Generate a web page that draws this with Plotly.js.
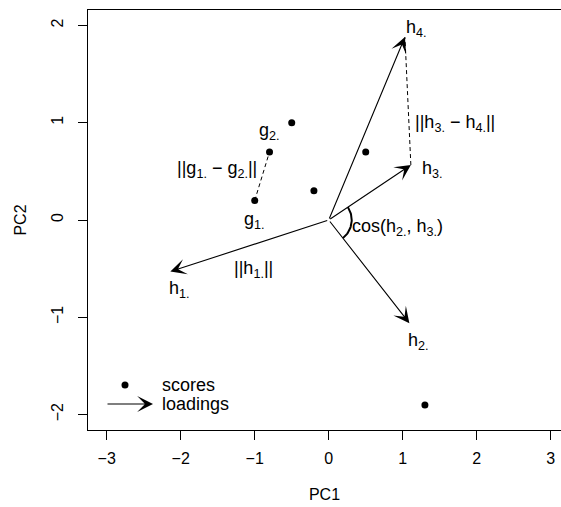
<!DOCTYPE html>
<html>
<head>
<meta charset="utf-8">
<script src="https://cdn.plot.ly/plotly-3.0.1.min.js"></script>
<style>html,body{margin:0;padding:0;background:#fff;} #plot{width:561px;height:507px;}</style>
</head>
<body>
<div id="plot"></div>
<script>
// ---- data ----
const scoresPC1 = [-0.5, -0.8, -1.0, -0.2, 0.5, 1.3];
const scoresPC2 = [1.0, 0.7, 0.2, 0.3, 0.7, -1.9];
const loadingNames = ['h1.', 'h2.', 'h3.', 'h4.'];
const loadingsPC1 = [-2.14, 1.09, 1.11, 1.03];
const loadingsPC2 = [-0.53, -1.06, 0.565, 1.88];
const xTickVals = [-3, -2, -1, 0, 1, 2, 3];
const yTickVals = [-2, -1, 0, 1, 2];
const xTickText = ['\u22123', '\u22122', '\u22121', '0', '1', '2', '3'];
const yTickText = ['\u22122', '\u22121', '0', '1', '2'];

// ---- layout geometry ----
const W = 561, H = 507;
const M = {l: 88, r: 0, t: 10, b: 77};
const xRange = [-3.253, 3.139];
const yRange = [-2.158, 2.158];
const plotW = W - M.l - M.r, plotH = H - M.t - M.b;
const kx = plotW / (xRange[1] - xRange[0]);
const ky = plotH / (yRange[1] - yRange[0]);
const FONT = 'Liberation Sans, Arial, Helvetica, sans-serif';
const ARROW = {arrowhead: 3, arrowsize: 2.4, arrowwidth: 1.1, arrowcolor: 'black', standoff: 0};

const traces = [];
// scores
traces.push({
  x: scoresPC1, y: scoresPC2, mode: 'markers', type: 'scatter',
  marker: {color: 'black', size: 7}, hoverinfo: 'skip', showlegend: false
});
// dashed: g1 - g2
traces.push({
  x: [scoresPC1[2], scoresPC1[1]], y: [scoresPC2[2], scoresPC2[1]],
  mode: 'lines', line: {color: 'black', width: 1, dash: '4px,3px'},
  hoverinfo: 'skip', showlegend: false
});
// dashed: h3 - h4
traces.push({
  x: [loadingsPC1[2], loadingsPC1[3]], y: [loadingsPC2[2], loadingsPC2[3]],
  mode: 'lines', line: {color: 'black', width: 1, dash: '4px,3px'},
  hoverinfo: 'skip', showlegend: false
});
// angle arc between h2 and h3
(function () {
  const a2 = Math.atan2(loadingsPC2[1] * ky, loadingsPC1[1] * kx);
  const a3 = Math.atan2(loadingsPC2[2] * ky, loadingsPC1[2] * kx);
  const rpx = 23, n = 40;
  const ax = [], ay = [];
  for (let i = 0; i <= n; i++) {
    const t = a2 + (a3 - a2) * i / n;
    ax.push(rpx * Math.cos(t) / kx);
    ay.push(rpx * Math.sin(t) / ky);
  }
  traces.push({x: ax, y: ay, mode: 'lines', line: {color: 'black', width: 2},
    hoverinfo: 'skip', showlegend: false});
})();

const annotations = [];
// loading arrows
for (let i = 0; i < loadingNames.length; i++) {
  annotations.push(Object.assign({
    x: loadingsPC1[i], y: loadingsPC2[i], xref: 'x', yref: 'y',
    ax: 0, ay: 0, axref: 'x', ayref: 'y', text: '', showarrow: true
  }, ARROW));
}
// text labels
const labels = [
  {t: 'h<sub>4.</sub>', x: 1.19, y: 1.97},
  {t: '||h<sub>3.</sub> \u2212 h<sub>4.</sub>||', x: 1.70, y: 0.99},
  {t: 'h<sub>3.</sub>', x: 1.40, y: 0.52},
  {t: 'cos(h<sub>2.</sub>, h<sub>3.</sub>)', x: 0.93, y: -0.08},
  {t: 'g<sub>2.</sub>', x: -0.80, y: 0.91},
  {t: '||g<sub>1.</sub> \u2212 g<sub>2.</sub>||', x: -1.51, y: 0.52},
  {t: 'g<sub>1.</sub>', x: -1.00, y: -0.01},
  {t: '||h<sub>1.</sub>||', x: -1.02, y: -0.51},
  {t: 'h<sub>1.</sub>', x: -2.01, y: -0.71},
  {t: 'h<sub>2.</sub>', x: 1.21, y: -1.25}
];
labels.forEach(l => annotations.push({
  x: l.x, y: l.y, xref: 'x', yref: 'y', text: l.t, showarrow: false,
  xanchor: 'center', yanchor: 'middle', font: {family: FONT, size: 18, color: 'black'}
}));

// legend (bottom-left), positioned in paper coords from pixel offsets
const px2paperX = p => (p - M.l) / plotW;
const px2paperY = p => (H - M.b - p) / plotH;
annotations.push(Object.assign({
  x: px2paperX(153), y: px2paperY(404), xref: 'paper', yref: 'paper',
  ax: -47, ay: 0, text: '', showarrow: true
}, ARROW));
annotations.push({x: px2paperX(160), y: px2paperY(385), xref: 'paper', yref: 'paper',
  text: 'scores', showarrow: false, xanchor: 'left', yanchor: 'middle',
  font: {family: FONT, size: 18, color: 'black'}});
annotations.push({x: px2paperX(160), y: px2paperY(404), xref: 'paper', yref: 'paper',
  text: 'loadings', showarrow: false, xanchor: 'left', yanchor: 'middle',
  font: {family: FONT, size: 18, color: 'black'}});

const shapes = [{
  type: 'circle', xref: 'paper', yref: 'paper', xsizemode: 'pixel', ysizemode: 'pixel',
  xanchor: px2paperX(125), yanchor: px2paperY(385), x0: -3.5, x1: 3.5, y0: -3.5, y1: 3.5,
  fillcolor: 'black', line: {color: 'black', width: 0}
}];

const layout = {
  width: W, height: H, margin: M, paper_bgcolor: 'white', plot_bgcolor: 'white',
  showlegend: false,
  font: {family: FONT, size: 16, color: 'black'},
  xaxis: {
    range: xRange, tickvals: xTickVals, ticktext: xTickText, ticks: 'outside',
    ticklen: 9, tickwidth: 1, tickcolor: 'black', showline: true, mirror: true,
    linecolor: 'black', linewidth: 1, showgrid: false, zeroline: false,
    tickfont: {family: FONT, size: 16}, ticklabelstandoff: 5,
    title: {text: 'PC1', font: {family: FONT, size: 16}, standoff: 22}
  },
  yaxis: {
    range: yRange, tickvals: yTickVals, ticktext: yTickText, ticks: 'outside',
    ticklen: 9, tickwidth: 1, tickcolor: 'black', showline: true, mirror: false,
    linecolor: 'black', linewidth: 1, showgrid: false, zeroline: false,
    tickangle: -90, tickfont: {family: FONT, size: 16}, ticklabelstandoff: 9,
    title: {text: 'PC2', font: {family: FONT, size: 16}, standoff: 17}
  },
  annotations: annotations, shapes: shapes
};

Plotly.newPlot('plot', traces, layout, {staticPlot: true, displayModeBar: false});
</script>
</body>
</html>
